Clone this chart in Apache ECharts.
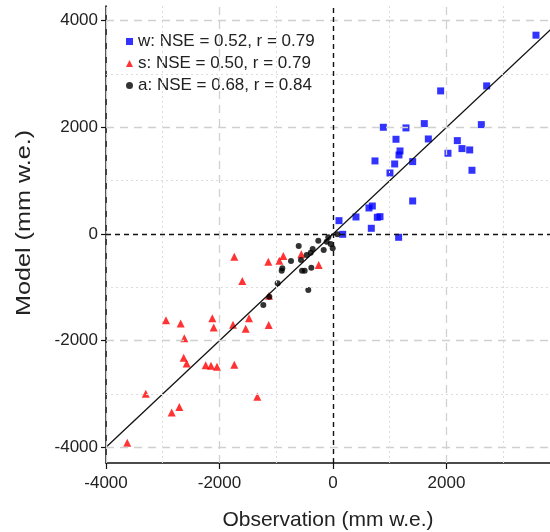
<!DOCTYPE html>
<html>
<head>
<meta charset="utf-8">
<script src="https://cdn.jsdelivr.net/npm/echarts@6/dist/echarts.min.js"></script>
<style>html,body{margin:0;padding:0;background:#fff}#c{width:550px;height:532px}</style>
</head>
<body>
<div id="c"></div>
<script>
// ---- data ----
const seriesNames = ['w: NSE = 0.52, r = 0.79', 's: NSE = 0.50, r = 0.79', 'a: NSE = 0.68, r = 0.84'];
const wObs = [3577, 2708, 1897, 887, 1286, 1609, 2614, 1110, 1680, 2191, 2273, 2409, 2026, 1181, 1163, 1404, 1087, 740, 1004, 2449, 1404, 693, 634, 405, 781, 828, 106, 675, 171, 1157];
const wMod = [3728, 2777, 2683, 2001, 1989, 2070, 2051, 1776, 1782, 1751, 1601, 1576, 1514, 1557, 1482, 1357, 1313, 1370, 1144, 1195, 619, 525, 488, 319, 313, 325, 250, 107, -6, -62];
const sObs = [-1739, -1140, -876, -946, -558, -252, -1598, -1128, -1480, -2943, -2684, -2127, -2102, -1762, -1538, -1133, -2620, -2631, -2578, -2243, -2150, -2044, -1739, -3300, -1334, -2708, -2842, -3625];
const sMod = [-425, -519, -413, -500, -381, -582, -882, -1157, -1582, -1619, -1676, -1582, -1751, -1701, -1776, -1707, -1957, -2320, -2426, -2463, -2470, -2490, -2452, -2996, -3052, -3246, -3346, -3915];
const aObs = [76, -83, -111, -41, -5, -164, -259, -358, -393, -464, -564, -604, -740, -546, -499, -382, -893, -904, -975, -435, -1122, -1228];
const aMod = [-6, -62, -144, -188, -269, -300, -125, -281, -350, -394, -488, -225, -507, -688, -688, -632, -644, -688, -925, -1051, -1176, -1332];
const xTicks = [-4000, -2000, 0, 2000];
const yTicks = [-4000, -2000, 0, 2000, 4000];
const majorGrid = [-4000, -2000, 2000, 4000];
const minorGrid = [-3000, -1000, 1000, 3000];
const xRange = [-4000, 3824];
const yRange = [-4294, 4275];

const pairs = (xs, ys) => xs.map((x, i) => [x, ys[i]]);
const FONT = 'Liberation Sans, Arial, sans-serif';

const gridLines = [];
majorGrid.forEach(v => { gridLines.push({xAxis: v, lineStyle: {type: [8, 6], color: '#d0d0d0', width: 1.3}}); gridLines.push({yAxis: v, lineStyle: {type: [8, 6], color: '#d0d0d0', width: 1.3}}); });
minorGrid.forEach(v => { gridLines.push({xAxis: v, lineStyle: {type: [2, 3], color: '#dcdcdc', width: 1}}); gridLines.push({yAxis: v, lineStyle: {type: [2, 3], color: '#dcdcdc', width: 1}}); });
gridLines.push({xAxis: 0, lineStyle: {type: [5, 4], color: '#111', width: 1.4}});
gridLines.push({yAxis: 0, lineStyle: {type: [5, 4], color: '#111', width: 1.4}});

const chart = echarts.init(document.getElementById('c'), null, {renderer: 'canvas'});
chart.setOption({
  animation: false,
  textStyle: {fontFamily: FONT},
  grid: {left: 106, right: 0, top: 6, bottom: 69, containLabel: false, outerBoundsMode: 'none'},
  xAxis: {
    type: 'value', min: xRange[0], max: xRange[1],
    name: 'Observation (mm w.e.)', nameLocation: 'middle', nameGap: 47,
    nameTextStyle: {fontSize: 21, color: '#222', fontFamily: FONT},
    axisLine: {show: true, onZero: false, lineStyle: {color: '#111', width: 1.6}},
    axisTick: {show: true, length: 6, customValues: xTicks, lineStyle: {color: '#111', width: 1.2}},
    axisLabel: {customValues: xTicks, formatter: v => String(v), fontSize: 17, color: '#222', margin: 12, fontFamily: FONT},
    splitLine: {show: false}
  },
  yAxis: {
    type: 'value', min: yRange[0], max: yRange[1],
    axisLine: {show: true, onZero: false, lineStyle: {color: '#111', width: 1.6}},
    axisTick: {show: true, length: 5, customValues: yTicks, lineStyle: {color: '#111', width: 1.2}},
    axisLabel: {customValues: yTicks, formatter: v => String(v), fontSize: 17, color: '#222', margin: 8, fontFamily: FONT},
    splitLine: {show: false}
  },
  graphic: [{
    type: 'text', x: 24, y: 223, rotation: Math.PI / 2, scaleX: 1.2,
    style: {text: 'Model (mm w.e.)', fill: '#222', font: '21px Liberation Sans, Arial, sans-serif', align: 'center', verticalAlign: 'middle'}
  }],
  legend: {
    data: seriesNames.map((n, i) => ({name: n, icon: ['rect', 'triangle', 'circle'][i]})),
    orient: 'vertical', left: 121, top: 28, itemWidth: 7, itemHeight: 7, itemGap: 5,
    textStyle: {fontSize: 17, color: '#222', fontFamily: FONT}
  },
  series: [
    {type: 'line', data: [], silent: true, markLine: {silent: true, symbol: 'none', label: {show: false}, animation: false, data: gridLines}},
    {type: 'line', data: [[-4000, -4000], [4400, 4400]], showSymbol: false, silent: true, lineStyle: {color: '#111', width: 1.3}, clip: true},
    {name: seriesNames[2], type: 'scatter', symbol: 'circle', symbolSize: 6, itemStyle: {color: '#000'}, data: pairs(aObs, aMod), z: 3},
    {name: seriesNames[1], type: 'scatter', symbol: 'triangle', symbolSize: 8, itemStyle: {color: '#ff0000'}, data: pairs(sObs, sMod), z: 2},
    {name: seriesNames[0], type: 'scatter', symbol: 'rect', symbolSize: 7, itemStyle: {color: '#0000ff'}, data: pairs(wObs, wMod), z: 2}
  ]
});
</script>
</body>
</html>
